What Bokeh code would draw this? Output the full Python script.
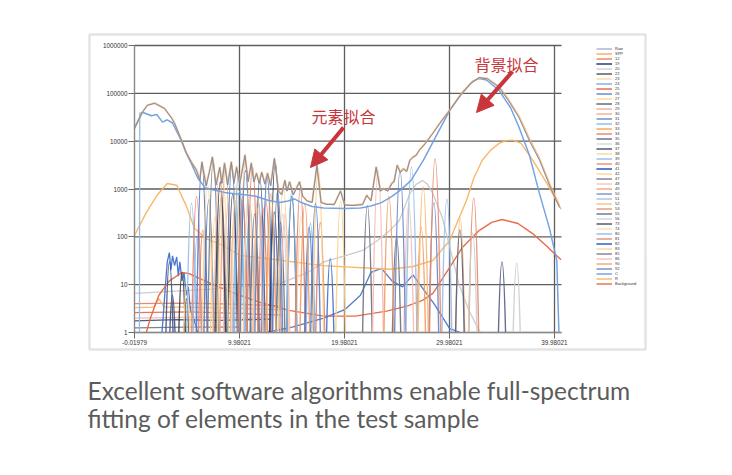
import math
from bokeh.plotting import figure
from bokeh.models import (ColumnDataSource, FixedTicker, NumeralTickFormatter,
                          PrintfTickFormatter, Legend, LegendItem, Label, Arrow,
                          NormalHead, BoxAnnotation, Range1d)
from bokeh.embed import file_html
from bokeh.resources import INLINE

# ---------------- data ----------------
x_ticks = [-0.01979, 9.98021, 19.98021, 29.98021, 39.98021]
y_ticks = [1, 10, 100, 1000, 10000, 100000, 1000000]

legend_labels = ["Raw", "SPP", "12", "19", "20", "22", "23", "24", "25", "26", "27",
                 "28", "29", "30", "31", "32", "33", "34", "35", "36", "37", "38",
                 "39", "40", "41", "42", "47", "48", "49", "50", "51", "52", "53",
                 "55", "56", "73", "74", "80", "81", "82", "83", "85", "86", "90",
                 "92", "C", "R", "Background"]

series_color = {
    "Raw": "#6a8bc6", "SPP": "#f7b366", "12": "#e4704f", "19": "#46547f",
    "20": "#c9c9c9", "22": "#3d3d3d", "23": "#fbd59c", "24": "#8fbbe6",
    "25": "#e8826a", "26": "#4f77c9", "27": "#fcd08a", "28": "#777e8c",
    "29": "#f4b9b0", "30": "#f0a57a", "31": "#4f7cc8", "32": "#7fb0e2",
    "33": "#f8b46c", "34": "#e0755a", "35": "#4b5b8a", "36": "#d0d0d0",
    "37": "#333c55", "38": "#fcd396", "39": "#82b4e4", "40": "#e3826c",
    "41": "#3f6fcf", "42": "#fbd08a", "47": "#6c7080", "48": "#f5bdb4",
    "49": "#f39a63", "50": "#6c86c2", "51": "#98bde8", "52": "#f9b76e",
    "53": "#e6896e", "55": "#555f85", "56": "#cdcdcd", "73": "#353a4a",
    "74": "#fcd9a0", "80": "#85b6e5", "81": "#e27f66", "82": "#4a74c8",
    "83": "#fbd190", "85": "#6f7383", "86": "#f4beb5", "90": "#f29a62",
    "92": "#5d80c4", "C": "#6f9fe0", "R": "#f8b462", "Background": "#e8643f",
}

# measured spectrum (keV, counts)
raw_spectrum = [
    (-0.02, 18600), (0.65, 38000), (1.2, 56000), (1.9, 62000), (2.84, 48000),
    (3.5, 31000), (3.8, 23500), (4.46, 10400), (4.9, 5800), (5.4, 3600),
    (5.9, 2400), (6.2, 1500), (6.4, 3600), (6.8, 1150), (7.1, 2200), (7.4, 4600),
    (7.75, 1200), (8.1, 2800), (8.3, 1300), (8.55, 3400), (8.85, 1200),
    (9.2, 3600), (9.45, 1300), (9.7, 2800), (10.0, 1250), (10.5, 5000),
    (10.8, 1400), (11.1, 3400), (11.35, 1400), (11.6, 2100), (11.85, 1300),
    (12.1, 2200), (12.4, 1250), (12.65, 2100), (12.95, 1150), (13.3, 4300),
    (13.7, 900), (14.0, 750), (14.3, 1500), (14.5, 900), (14.75, 1400),
    (15.1, 750), (15.7, 1400), (16.0, 700), (16.4, 560), (16.9, 520),
    (17.35, 3100), (17.75, 520), (18.2, 480), (19.0, 470), (19.6, 900),
    (20.0, 460), (20.8, 450), (21.7, 470), (22.1, 730), (22.5, 560),
    (23.0, 2850), (23.4, 900), (23.7, 1000), (24.1, 900), (24.5, 1300),
    (24.7, 1400), (25.0, 3100), (25.3, 2200), (25.6, 2600), (25.9, 2300),
    (26.2, 3900), (26.5, 4600), (26.8, 5000), (27.1, 6400), (27.7, 9000),
    (28.4, 14600), (29.2, 26000), (30.0, 44000), (31.0, 90000), (32.0, 160000),
    (32.8, 215000), (33.6, 200000), (34.7, 134000), (35.6, 70000),
    (36.6, 31000), (37.6, 10000), (38.55, 4000), (39.5, 1200), (40.45, 410),
]

# summed fit (keV, counts)
spp_fit = [
    (-0.02, 18800), (0.65, 38500), (1.2, 56500), (1.9, 62500), (2.84, 48500),
    (3.5, 31000), (3.8, 23500), (4.46, 10400), (4.9, 5800), (5.4, 3700),
    (5.9, 2500), (6.2, 1550), (6.4, 3800), (6.8, 1200), (7.1, 2300), (7.4, 4800),
    (7.75, 1250), (8.1, 2900), (8.3, 1350), (8.55, 3600), (8.85, 1250),
    (9.2, 3800), (9.45, 1350), (9.7, 3000), (10.0, 1300), (10.5, 5300),
    (10.8, 1450), (11.1, 3600), (11.35, 1450), (11.6, 2200), (11.85, 1350),
    (12.1, 2300), (12.4, 1300), (12.65, 2200), (12.95, 1200), (13.3, 4500),
    (13.7, 920), (14.0, 770), (14.3, 1550), (14.5, 920), (14.75, 1450),
    (15.1, 770), (15.7, 1450), (16.0, 720), (16.4, 570), (16.9, 530),
    (17.35, 3200), (17.75, 530), (18.2, 490), (19.0, 480), (19.6, 930),
    (20.0, 470), (20.8, 460), (21.7, 480), (22.1, 750), (22.5, 570),
    (23.0, 2950), (23.4, 920), (23.7, 1020), (24.1, 920), (24.5, 1350),
    (24.7, 1450), (25.0, 3200), (25.3, 2250), (25.6, 2700), (25.9, 2350),
    (26.2, 4000), (26.5, 4700), (26.8, 5100), (27.1, 6500), (27.7, 9200),
    (28.4, 14800), (29.2, 26500), (30.0, 45000), (31.0, 92000), (32.0, 162000),
    (32.8, 212000), (33.6, 205000), (34.7, 138000), (35.6, 74000),
    (36.6, 33000), (37.6, 11000), (38.55, 4300), (39.5, 1300), (40.45, 450),
]

# scatter ("C") smooth curve
scatter_c = [
    (-0.02, 18600), (0.74, 40000), (1.6, 34000), (2.1, 36000), (2.65, 25000),
    (3.1, 28000), (3.6, 24000), (4.46, 10000), (4.9, 5600), (5.4, 3400),
    (6.0, 1700), (6.7, 1070), (7.5, 950), (8.55, 850), (9.5, 800), (10.5, 760),
    (11.6, 700), (12.7, 580), (13.8, 520), (14.6, 560), (15.2, 620), (15.8, 530),
    (16.9, 430), (18.0, 400), (20.0, 390), (21.5, 400), (22.5, 440), (23.5, 520),
    (24.5, 700), (25.3, 950), (26.3, 1500), (27.5, 4000), (28.8, 14000),
    (30.0, 44000), (31.3, 110000), (32.2, 180000), (32.8, 205000),
    (33.5, 190000), (34.7, 115000), (35.8, 50000), (36.6, 19500), (37.6, 5000),
    (38.55, 800), (39.5, 150), (40.2, 32), (40.4, 1),
]
edge_24 = [(0.45, 1), (0.48, 39000), (0.8, 40000), (1.6, 34000)]

# "R" orange hump
hump_r = [
    (-0.02, 107), (1.1, 320), (2.1, 730), (3.1, 1300), (4.0, 1200), (4.9, 450),
    (5.7, 150), (6.8, 92), (8.4, 66), (10.0, 41), (13.1, 34), (17.9, 25),
    (24.3, 21), (26.5, 24), (28.4, 32), (30.0, 84), (31.6, 580), (32.3, 1700),
    (33.1, 4000), (33.9, 6500), (34.7, 9000), (35.3, 10200), (36.0, 10500),
    (36.8, 9000), (37.9, 4000), (38.7, 2100), (39.5, 1060), (40.6, 380),
]

# fitted background (orange-red)
background = [
    (1.1, 1), (1.5, 2), (2.3, 6), (3.3, 12), (4.5, 18), (5.2, 17), (6.0, 14),
    (8.0, 9), (10.0, 6), (12.0, 4.2), (14.7, 2.9), (18.0, 2.2), (21.0, 2.2),
    (24.0, 2.8), (26.0, 3.6), (27.4, 4.7), (28.4, 6.6), (30.0, 23), (31.2, 60),
    (32.8, 135), (34.0, 200), (35.0, 230), (36.5, 190), (37.9, 117),
    (39.2, 65), (40.6, 33),
]

# grey hump ("20")
hump_20 = [
    (-0.02, 6.6), (7.0, 8), (13.8, 10.5), (16.5, 18), (18.0, 30), (20.0, 40),
    (21.7, 52), (23.0, 80), (24.3, 135), (25.2, 220), (26.2, 800), (26.8, 1250),
    (27.4, 1500), (27.9, 1250), (28.4, 800), (29.3, 250), (30.1, 50),
    (30.9, 10), (31.8, 3), (32.8, 1.1), (33.0, 1),
]

# noisy low-energy trace ("41")
noisy_41 = [
    (2.6, 1), (2.9, 8), (3.1, 30), (3.3, 47), (3.45, 20), (3.6, 40),
    (3.8, 25), (4.0, 38), (4.15, 15), (4.3, 30), (4.5, 12), (4.7, 18),
    (4.9, 6), (5.1, 9), (5.3, 3), (5.6, 2), (6.0, 1),
]

# low, nearly flat component lines
low_lines = {
    "25": [(-0.02, 4.0), (5.0, 4.1), (10.0, 3.9), (14.0, 3.6)],
    "33": [(-0.02, 3.3), (1.8, 3.4), (2.3, 5.1), (2.8, 3.4), (5.0, 3.4),
           (10.0, 3.2), (14.0, 3.0)],
    "12": [(-0.02, 2.6), (5.0, 2.7), (10.0, 2.5), (14.0, 2.3)],
    "29": [(-0.02, 2.0), (6.0, 2.1), (12.0, 2.0)],
    "19": [(-0.02, 1.75), (4.0, 1.85), (8.0, 1.8), (13.0, 1.9)],
    "28": [(-0.02, 1.25), (5.0, 1.3), (10.0, 1.3)],
    "82": [(12.5, 1), (15.0, 1.3), (18.0, 2.0), (20.0, 3.0), (21.5, 6),
           (22.5, 18), (23.5, 22), (24.5, 12), (25.5, 9), (26.5, 16),
           (27.5, 8), (28.5, 4), (30.0, 1.2), (31.0, 1)],
}

# element line peaks: (series, keV, peak counts)
element_peaks = [
    ("19", 3.31, 30), ("19", 3.59, 6), ("22", 4.51, 18), ("22", 4.93, 5),
    ("23", 4.95, 10), ("23", 5.43, 3), ("24", 5.41, 500), ("24", 5.95, 100),
    ("25", 5.90, 700), ("25", 6.49, 140), ("26", 6.40, 3200), ("26", 7.06, 600),
    ("27", 6.93, 1300), ("27", 7.65, 260), ("28", 7.48, 3800), ("28", 8.26, 700),
    ("29", 8.05, 2500), ("29", 8.90, 480), ("30", 8.64, 3000), ("30", 9.57, 560),
    ("31", 9.25, 3100), ("31", 10.26, 580), ("32", 9.89, 2300), ("32", 10.98, 450),
    ("33", 10.54, 3800), ("33", 11.73, 700), ("34", 11.22, 2900), ("34", 12.50, 560),
    ("35", 11.92, 1600), ("35", 13.29, 330), ("36", 12.65, 1500), ("36", 14.11, 300),
    ("37", 13.39, 3600), ("37", 14.96, 700), ("38", 14.16, 1200), ("38", 15.84, 260),
    ("39", 14.96, 900), ("39", 16.74, 190), ("40", 15.77, 1000), ("40", 17.67, 200),
    ("41", 16.61, 160), ("41", 18.62, 35), ("42", 17.48, 2700), ("42", 19.61, 560),
    ("47", 22.16, 450), ("47", 24.94, 100), ("48", 23.17, 2400), ("48", 26.10, 500),
    ("49", 24.21, 700), ("49", 27.28, 160), ("50", 25.27, 2400), ("50", 28.49, 520),
    ("51", 26.36, 2900), ("51", 29.73, 620), ("52", 27.47, 1100), ("52", 31.00, 240),
    ("53", 28.61, 4300), ("53", 32.29, 650), ("55", 30.97, 140), ("55", 34.98, 30),
    ("56", 32.19, 120), ("56", 36.38, 28), ("73", 8.15, 1400), ("73", 9.34, 800),
    ("74", 8.40, 2000), ("74", 9.67, 1200), ("80", 9.99, 900), ("80", 11.82, 500),
    ("81", 10.27, 700), ("81", 12.21, 400), ("82", 10.55, 2400), ("82", 12.61, 1800),
    ("83", 10.84, 900), ("83", 13.02, 600), ("85", 11.43, 300), ("85", 13.88, 200),
    ("86", 11.73, 400), ("86", 14.32, 300), ("90", 12.97, 800), ("90", 16.20, 500),
    ("92", 13.61, 900), ("92", 17.22, 500),
]

caption_lines = ["Excellent software algorithms enable full-spectrum",
                 "fitting of elements in the test sample"]
note_labels = ["元素拟合", "背景拟合"]

# ---------------- figure ----------------
W, H = 716, 459
AX_LEFT, AX_BOTTOM = 134, 332        # pixel position of the plot corner
PX_PER_KEV = 10.5
PX_PER_DEC = 47.83
X0, X1 = -0.02, 40.65                 # plotted energy span
Y0, Y1 = 1, 1e6                       # plotted count span


def kx(px):  # canvas pixel -> keV
    return X0 + (px - AX_LEFT) / PX_PER_KEV


def ly(py):  # canvas pixel -> counts
    return 10 ** ((AX_BOTTOM - py) / PX_PER_DEC)


p = figure(width=W, height=H, output_backend="svg", toolbar_location=None,
           x_range=Range1d(kx(0), kx(W)), y_range=Range1d(ly(H), ly(0)),
           y_axis_type="log", min_border=0)
p.outline_line_color = None
p.background_fill_color = "white"
p.border_fill_color = "white"
p.xgrid.visible = False
p.ygrid.visible = False

for ax in (p.xaxis, p.yaxis):
    ax.axis_line_color = "#8a8a8a"
    ax.major_tick_line_color = "#6a6a6a"
    ax.major_tick_out = 6
    ax.major_tick_in = 0
    ax.minor_tick_line_color = None
    ax.major_label_text_font_size = "6.3px"
    ax.major_label_text_color = "#333333"
    ax.major_label_text_font = "Liberation Sans"
    ax.major_label_standoff = 1
p.xaxis.ticker = FixedTicker(ticks=x_ticks)
p.xaxis.formatter = PrintfTickFormatter(format="%.5f")
p.xaxis.fixed_location = Y0
p.xaxis.bounds = (X0, X1)
p.yaxis.ticker = FixedTicker(ticks=y_ticks)
p.yaxis.formatter = NumeralTickFormatter(format="0")
p.yaxis.fixed_location = X0
p.yaxis.bounds = (Y0, Y1)

# grid lines at the tick values
p.segment(x0=x_ticks, y0=[Y0] * len(x_ticks), x1=x_ticks, y1=[Y1] * len(x_ticks),
          line_color="#5e5e5e", line_width=1.3)
p.segment(x0=[X0] * len(y_ticks), y0=y_ticks, x1=[X1] * len(y_ticks), y1=y_ticks,
          line_color="#5e5e5e", line_width=1.3)

renderers = {lab: [] for lab in legend_labels}


def add_line(lab, pts, width=1.3, alpha=0.95, color=None):
    r = p.line([a for a, b in pts], [b for a, b in pts],
               line_color=color or series_color[lab], line_width=width,
               line_alpha=alpha)
    renderers[lab].append(r)


for lab, pts in low_lines.items():
    add_line(lab, pts)
add_line("20", hump_20)
add_line("41", noisy_41)
add_line("R", hump_r, 1.4)
add_line("Background", background, 1.4)

SIGMA = 0.13
for lab in legend_labels:
    pk = [(k, c) for e, k, c in element_peaks if e == lab]
    if not pk:
        continue
    half = [SIGMA * math.sqrt(2 * math.log(c / Y0)) for k, c in pk]
    src = ColumnDataSource(dict(
        x0=[k - h for (k, c), h in zip(pk, half)],
        x1=[k + h for (k, c), h in zip(pk, half)],
        y0=[Y0] * len(pk), y1=[Y0] * len(pk),
        cx=[k for k, c in pk], cy=[c * c / Y0 for k, c in pk]))
    r = p.quadratic(x0="x0", y0="y0", x1="x1", y1="y1", cx="cx", cy="cy",
                    source=src, line_color=series_color[lab], line_width=1.4,
                    line_alpha=0.9)
    renderers[lab].append(r)

add_line("24", edge_24, 1.3)
add_line("C", scatter_c, 1.5)
add_line("SPP", spp_fit, 1.8, 0.85)
add_line("Raw", raw_spectrum, 1.0, 0.9, "#7288b4")

items = [LegendItem(label=lab, renderers=renderers[lab]) for lab in legend_labels]
legend = Legend(items=items, location=(596, H - 286), orientation="vertical",
                label_text_font_size="4px", label_text_font="Liberation Sans",
                label_text_color="#333333", label_height=5, glyph_height=5,
                glyph_width=16, spacing=0, padding=0, margin=0, label_standoff=3,
                border_line_color=None, background_fill_alpha=0)
p.add_layout(legend)

# outer picture border
p.add_layout(BoxAnnotation(left=kx(89), right=kx(645), top=ly(34), bottom=ly(349),
                           fill_alpha=0, line_color="#a6a6a6", line_width=2.5))

RED = "#c8363c"
p.add_layout(Label(x=kx(343), y=ly(115), text=note_labels[0], text_color=RED,
                   text_font="Noto Sans CJK SC", text_font_size="16px",
                   text_align="center", text_baseline="middle"))
p.add_layout(Label(x=kx(506), y=ly(63), text=note_labels[1], text_color=RED,
                   text_font="Noto Sans CJK SC", text_font_size="16px",
                   text_align="center", text_baseline="middle"))
p.add_layout(Arrow(x_start=kx(343), y_start=ly(127), x_end=kx(310), y_end=ly(167),
                   line_color=RED, line_width=4,
                   end=NormalHead(size=17, fill_color=RED, line_color=RED)))
p.add_layout(Arrow(x_start=kx(512), y_start=ly(71), x_end=kx(476), y_end=ly(112),
                   line_color=RED, line_width=4,
                   end=NormalHead(size=17, fill_color=RED, line_color=RED)))

for i, line in enumerate(caption_lines):
    p.add_layout(Label(x=kx(87), y=ly(390 + 28 * i), text=line, text_color="#5c5c5c",
                       text_font="Lato", text_font_size="24.5px",
                       text_baseline="alphabetic", text_align="left"))

open("out.html", "w").write(file_html(p, INLINE))
